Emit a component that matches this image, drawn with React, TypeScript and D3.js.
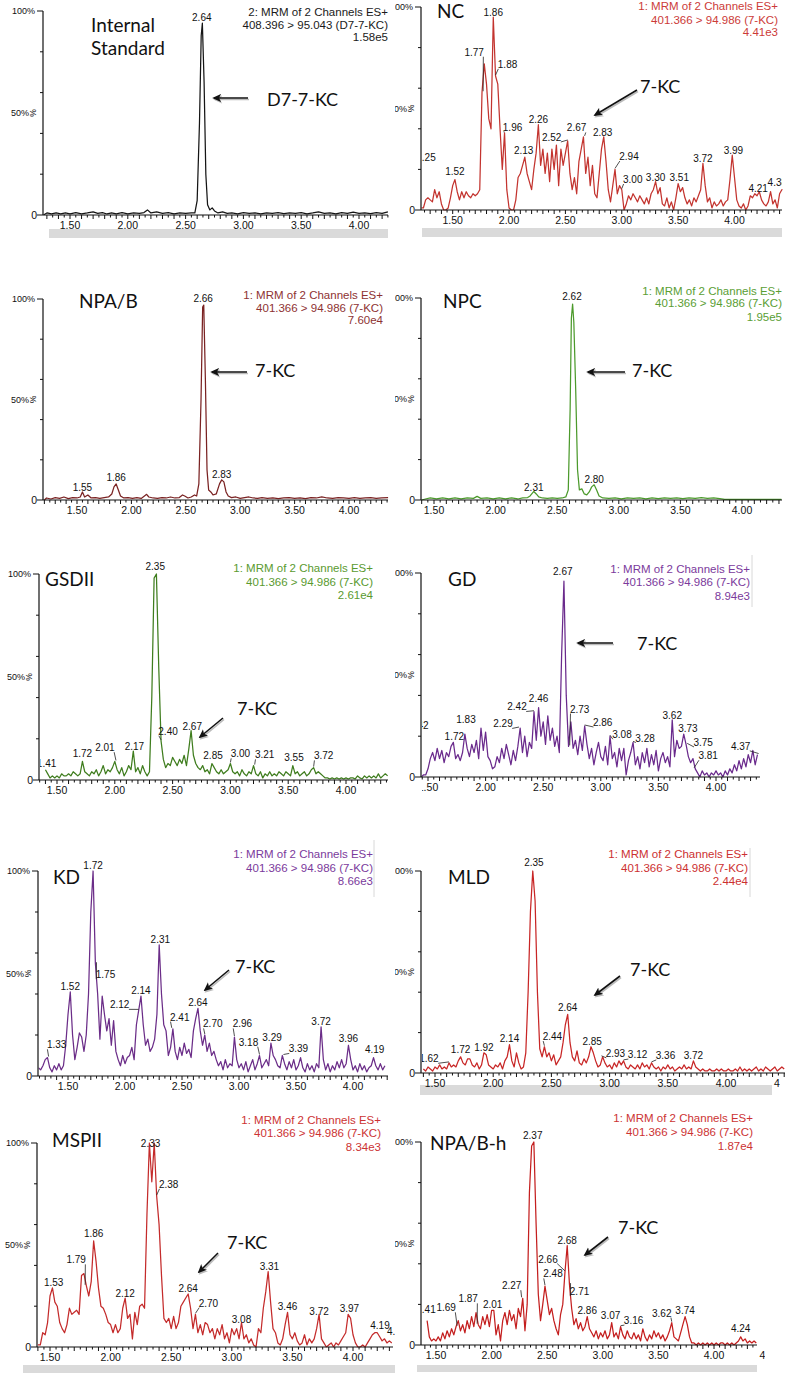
import React from 'react';
import * as d3 from 'd3';

// ---------- DATA ----------
const STEP = 0.02;
const tickLabels = ['1.50', '2.00', '2.50', '3.00', '3.50', '4.00', '4.50'];
const tickValues = [1.5, 2.0, 2.5, 3.0, 3.5, 4.0, 4.5];

const isHeader = ['2: MRM of 2 Channels ES+', '408.396 > 95.043 (D7-7-KC)', '1.58e5'];
const ncHeader = ['1: MRM of 2 Channels ES+', '401.366 > 94.986 (7-KC)', '4.41e3'];
const npabHeader = ['1: MRM of 2 Channels ES+', '401.366 > 94.986 (7-KC)', '7.60e4'];
const npcHeader = ['1: MRM of 2 Channels ES+', '401.366 > 94.986 (7-KC)', '1.95e5'];
const gsdHeader = ['1: MRM of 2 Channels ES+', '401.366 > 94.986 (7-KC)', '2.61e4'];
const gdHeader = ['1: MRM of 2 Channels ES+', '401.366 > 94.986 (7-KC)', '8.94e3'];
const kdHeader = ['1: MRM of 2 Channels ES+', '401.366 > 94.986 (7-KC)', '8.66e3'];
const mldHeader = ['1: MRM of 2 Channels ES+', '401.366 > 94.986 (7-KC)', '2.44e4'];
const mspHeader = ['1: MRM of 2 Channels ES+', '401.366 > 94.986 (7-KC)', '8.34e3'];
const npabhHeader = ['1: MRM of 2 Channels ES+', '401.366 > 94.986 (7-KC)', '1.87e4'];

// sparse [time, %] traces
const isPairs: number[][] = [
  [1.27,0],[1.30,1],[1.34,0.5],[1.38,1],[1.42,0.5],[1.46,1],[1.50,0.5],[1.55,1.2],[1.60,0.6],[1.65,1],
  [1.70,1.5],[1.74,0.8],[1.78,1.2],[1.82,0.5],[1.86,1],[1.90,0.6],[1.95,1.2],[2.00,0.5],[2.05,1],[2.10,0.8],
  [2.14,1.2],[2.17,2.5],[2.20,1],[2.25,1.5],[2.30,0.8],[2.35,1.2],[2.40,0.6],[2.45,1],[2.50,0.8],[2.55,1],
  [2.58,1],[2.60,7],[2.62,45],[2.635,88],[2.645,94],[2.66,65],[2.675,20],[2.69,5],[2.71,2.5],[2.73,3.5],
  [2.75,2],[2.78,1],[2.82,1.5],[2.86,0.8],[2.90,1],[2.95,0.6],[3.00,1.2],[3.05,0.8],[3.10,1],[3.15,0.6],
  [3.20,1],[3.25,0.8],[3.30,1.2],[3.35,0.7],[3.40,1],[3.45,0.8],[3.50,1.2],[3.55,0.6],[3.60,1],[3.65,1.5],
  [3.70,0.8],[3.75,1],[3.80,0.6],[3.85,1.2],[3.90,0.8],[3.95,1.4],[4.00,0.8],[4.05,1],[4.10,0.7],[4.15,1.2],
  [4.20,0.8],[4.25,1.5],
];

const npabPairs: number[][] = [
  [1.20,0],[1.22,1],[1.26,0.5],[1.30,1.2],[1.34,0.8],[1.38,1.5],[1.42,0.7],[1.46,1.2],[1.50,1],[1.53,1.5],
  [1.55,4],[1.57,1.5],[1.60,2.5],[1.63,1],[1.67,1.2],[1.71,0.8],[1.75,1.2],[1.79,1.5],[1.82,3],[1.84,6.5],
  [1.86,8],[1.88,5],[1.90,2],[1.93,1],[1.97,1.2],[2.01,0.8],[2.05,1.2],[2.09,0.8],[2.12,2],[2.14,2.8],
  [2.16,1.5],[2.20,1],[2.24,0.8],[2.28,1.2],[2.32,1],[2.36,1.5],[2.40,1],[2.44,1.2],[2.47,2.5],[2.49,2],
  [2.52,1],[2.55,1.5],[2.58,2.5],[2.60,2],[2.62,8],[2.64,50],[2.655,96],[2.665,97],[2.68,60],[2.695,15],
  [2.71,5],[2.73,4],[2.75,2.5],[2.78,3],[2.81,8],[2.83,10],[2.85,9],[2.87,4],[2.89,2],[2.92,1.2],
  [2.96,1.5],[3.00,0.8],[3.04,1.2],[3.08,1.5],[3.12,1],[3.16,0.8],[3.20,1.2],[3.25,0.8],[3.30,1],[3.35,0.7],
  [3.40,1],[3.45,1.2],[3.50,0.8],[3.55,1],[3.60,0.7],[3.65,1.2],[3.70,1],[3.75,1.5],[3.80,1],[3.85,0.8],
  [3.90,1.2],[3.95,1],[4.00,0.8],[4.05,1.2],[4.10,0.8],[4.15,1],[4.20,1.2],[4.25,0.8],[4.30,1],[4.36,1.2],
];

const npcPairs: number[][] = [
  [1.40,0],[1.43,0.5],[1.47,1],[1.52,0.5],[1.57,1],[1.62,0.6],[1.67,1],[1.72,0.5],[1.77,1],[1.82,0.8],
  [1.85,1.8],[1.88,0.8],[1.93,1],[1.98,0.5],[2.03,1],[2.08,0.6],[2.13,1],[2.18,0.5],[2.22,1],[2.26,1.2],
  [2.28,2],[2.30,3.5],[2.31,4.2],[2.33,3],[2.35,1.5],[2.38,1],[2.42,0.8],[2.46,1],[2.50,0.8],[2.54,1],
  [2.57,1.5],[2.59,5],[2.605,45],[2.615,90],[2.625,97],[2.635,88],[2.65,55],[2.665,15],[2.68,5],[2.70,5.5],
  [2.72,3],[2.74,2.5],[2.76,4],[2.78,6.5],[2.80,7.5],[2.82,5],[2.84,2],[2.87,1],[2.92,0.8],[2.97,1],
  [3.02,0.6],[3.07,1],[3.12,0.8],[3.17,1],[3.22,0.6],[3.27,1],[3.32,0.7],[3.37,1],[3.42,0.8],[3.47,1],
  [3.52,0.7],[3.57,1],[3.62,0.8],[3.67,1.2],[3.72,0.8],[3.77,1],[3.82,0.7],[3.86,0.3],[3.95,0.3],[4.05,0.3],
  [4.15,0.3],[4.25,0.3],[4.32,0.3],
];

// dense traces, one value every STEP minutes from the start time
const ncStart = 1.22;
const ncValues = [
  1,1,5,6,5,4,10,6,9,3,
  0,0,1,6,12,15,9,5,9,6,
  9,7,6,8,7,8,10,58,72,62,
  45,40,95,66,62,40,20,38,10,1,
  0,0,5,16,18,22,26,18,14,10,
  20,28,42,22,30,18,28,14,30,20,
  32,12,30,22,28,34,18,10,16,8,
  24,30,36,18,26,12,22,8,6,18,
  30,36,24,10,4,12,20,8,12,10,
  0,3,7,5,8,6,4,7,5,3,
  6,3,8,10,14,8,11,3,2,6,
  1,4,0,6,13,9,11,6,3,5,
  2,6,4,7,10,23,12,4,6,1,
  4,2,3,5,2,4,5,15,27,16,
  5,2,1,3,0,2,7,6,8,7,
  9,5,3,2,4,9,3,5,1,8,
  10,10,
];

const gsdStart = 1.40;
const gsdValues = [
  5,3,1,2,1,2,1,3,2,2,
  3,2,4,3,2,3,9,4,3,2,
  4,3,5,2,4,7,3,5,4,6,
  9,5,3,6,2,4,7,5,14,4,
  6,3,7,4,2,4,40,98,100,55,
  19,10,6,8,7,11,9,7,10,8,
  12,7,15,24,12,8,6,5,7,4,
  5,3,8,6,4,3,5,3,4,5,
  8,4,3,4,2,5,3,2,4,3,
  7,3,2,4,1,3,2,4,2,3,
  2,4,3,2,4,3,2,7,3,4,
  2,3,4,2,3,5,6,3,4,3,
  2,1,1,0.5,1,0.5,1,0.5,1,0.5,
  1,0.5,1,1,0.5,2,1,0.5,2,1,
  2,1,2,1,3,1,2,3,2,
];

const gdStart = 1.44;
const gdValues = [
  0,1,1,4,9,12,8,14,9,13,
  7,12,10,15,17,9,11,8,12,21,
  14,10,16,12,18,9,24,13,22,10,
  8,4,5,10,7,14,9,16,11,6,
  13,8,15,24,12,20,10,17,14,32,
  18,34,20,27,16,30,18,24,15,20,
  12,60,96,40,15,27,14,18,11,20,
  13,25,16,9,14,6,12,17,10,8,
  15,6,20,9,12,5,14,8,14,1,
  8,12,17,6,10,4,12,7,14,5,
  11,6,13,3,9,12,7,10,5,28,
  10,18,14,15,21,16,10,7,9,4,
  2,0,3,1,2,0,2,1,3,1,
  2,0,3,1,4,2,6,3,8,4,
  9,5,11,7,13,6,11,
];

const kdStart = 1.24;
const kdValues = [
  4,3,5,8,9,4,2,5,3,6,
  3,5,15,30,41,20,8,14,21,19,
  12,20,40,80,100,55,40,18,39,30,
  22,28,15,27,12,8,5,10,6,9,
  10,14,8,25,32,39,25,15,18,12,
  14,18,30,64,40,25,22,10,14,23,
  12,8,14,10,16,11,13,9,22,28,
  33,22,15,20,12,16,10,12,8,5,
  7,3,8,4,6,5,19,8,4,6,
  3,7,2,5,8,3,6,10,4,6,
  8,5,16,10,8,5,4,10,6,3,
  7,4,8,3,5,9,4,2,6,3,
  5,2,6,4,24,8,3,6,2,5,
  3,7,4,8,4,6,15,8,3,5,
  2,6,3,5,2,4,5,9,5,3,
  6,3,5,
];

const mldStart = 1.40;
const mldValues = [
  2,1,3,2,1,3,2,4,2,3,
  2,5,3,4,3,6,8,5,4,7,
  7,4,3,5,2,4,10,9,4,3,
  2,4,3,5,2,6,8,14,6,3,
  10,5,2,3,10,40,80,100,85,40,
  12,8,13,8,10,6,9,4,6,8,
  15,24,29,15,8,6,11,5,4,7,
  5,8,13,10,6,3,4,8,5,3,
  4,2,5,3,6,4,6,3,2,4,
  3,2,4,2,5,3,4,2,5,3,
  2,3,1,3,2,4,2,3,1,2,
  3,2,4,2,3,2,6,3,2,1,
  2,1,1,2,1,1,2,1,2,1,
  1,2,1,1,2,1,3,1,2,1,
  2,1,2,3,1,2,1,3,2,1,
  2,3,1,2,3,2,
];

const mspStart = 1.40;
const mspValues = [
  1,1,7,6,12,25,29,22,20,12,
  9,7,11,19,16,17,18,16,35,36,
  30,25,32,52,42,29,20,19,16,12,
  11,7,11,7,9,19,24,14,16,4,
  17,11,20,21,19,65,100,81,100,74,
  60,35,14,12,14,9,15,9,12,20,
  22,24,26,19,9,16,7,11,6,12,
  11,7,9,4,9,6,11,4,7,2,
  9,6,9,4,12,4,6,2,4,1,
  0,9,7,19,27,37,22,9,7,2,
  1,4,11,17,6,4,7,3,1,2,
  6,1,4,2,4,9,16,4,2,0,
  1,2,0,2,1,3,5,7,16,14,
  6,2,0,0,1,0,2,4,6,7,
  7,5,3,4,2,3,2,
];

const npabhStart = 1.42;
const npabhValues = [
  12,4,2,3,2,4,2,6,3,7,
  4,8,5,9,12,7,10,6,12,8,
  14,9,16,10,8,14,10,15,9,17,
  17,5,10,2,12,16,10,17,12,15,
  8,18,14,23,7,20,75,98,100,60,
  25,12,20,29,22,15,18,12,8,5,
  15,20,36,49,30,18,10,13,8,11,
  7,9,14,8,6,4,7,3,6,4,
  7,3,5,11,4,6,3,9,5,3,
  7,4,3,6,3,5,2,8,4,2,
  5,3,7,4,6,3,5,2,4,7,
  11,4,3,2,6,10,14,10,4,1,
  1,0,1,0,1,0,1,0,1,0,
  1,0,1,1,0,1,0,1,0,1,
  2,4,2,3,1,2,1,2,1,
];

// peak labels: [text, retention time, label level %, horizontal offset, leader line]
type Lab = [string, number, number, number, number];
const isLabels: Lab[] = [['2.64', 2.64, 95, 0, 0]];
const ncLabels: Lab[] = [
  ['1.25',1.25,24,1.5,0],['1.52',1.52,17,0,0],['1.77',1.77,76,-9,1],['1.86',1.86,95.6,0,0],
  ['1.88',1.88,70,12,1],['1.96',1.96,39,8,1],['2.13',2.13,27.5,0,0],['2.26',2.26,43,0,0],
  ['2.52',2.52,34,-16,1],['2.67',2.67,38.7,-8,1],['2.83',2.83,36.5,0,0],['2.94',2.94,24.6,14,1],
  ['3.00',3.00,13.3,11,1],['3.30',3.30,14.4,0,0],['3.51',3.51,14.4,0,0],['3.72',3.72,23.4,0,0],
  ['3.99',3.99,27.5,0,0],['4.21',4.21,8.7,0,0],['4.38',4.38,12,0,0],
];
const npabLabels: Lab[] = [['2.66',2.66,98.5,0,0],['1.55',1.55,4.7,0,0],['1.86',1.86,9.3,0,0],['2.83',2.83,11,0,0]];
const npcLabels: Lab[] = [['2.62',2.62,99,0,0],['2.31',2.31,4.6,0,0],['2.80',2.80,8.3,0,0]];
const gsdLabels: Lab[] = [
  ['2.35',2.35,101.8,0,0],['1.41',1.41,6.5,0,0],['1.72',1.72,11,0,0],['2.01',2.01,14,-11,1],
  ['2.17',2.17,14.7,0,0],['2.40',2.40,22,7,1],['2.67',2.67,24.3,0,0],['2.85',2.85,10.2,0,0],
  ['3.00',3.00,11,10,1],['3.21',3.21,10.5,10,1],['3.55',3.55,9,0,0],['3.72',3.72,10,10,1],
];
const gdLabels: Lab[] = [
  ['2.67',2.67,98.9,0,0],['1.42',1.42,23.4,0,0],['1.72',1.72,18,1,0],['1.83',1.83,26.4,0,0],
  ['2.29',2.29,24.3,-16,1],['2.42',2.42,32.6,-17,1],['2.46',2.46,36.6,0,0],['2.73',2.73,31.6,10,1],
  ['2.86',2.86,25,18,1],['3.08',3.08,19,12,1],['3.28',3.28,17.4,12,1],['3.62',3.62,28.4,0,0],
  ['3.73',3.73,22.3,3,0],['3.75',3.75,15.2,16,1],['3.81',3.81,8.7,14,1],['4.37',4.37,13.3,-18,1],
];
const kdLabels: Lab[] = [
  ['1.72',1.72,100.8,0,0],['1.33',1.33,13.5,8,1],['1.52',1.52,42,0,0],['1.75',1.75,47.7,9,1],
  ['2.12',2.12,33,-19,1],['2.14',2.14,40,0,0],['2.31',2.31,65,0,0],['2.41',2.41,27,8,1],
  ['2.64',2.64,34,0,0],['2.70',2.70,23.7,8,1],['2.96',2.96,23.7,8,1],['3.18',3.18,14.8,-11,1],
  ['3.29',3.29,17.2,0,0],['3.39',3.39,11.5,15,1],['3.72',3.72,24.8,0,0],['3.96',3.96,16.7,0,0],
  ['4.19',4.19,11,0,0],
];
const mldLabels: Lab[] = [
  ['2.35',2.35,102.5,0,0],['1.62',1.62,5.3,-20,1],['1.72',1.72,9.7,0,0],['1.92',1.92,11,0,0],
  ['2.14',2.14,15.3,0,0],['2.44',2.44,16.3,8,1],['2.64',2.64,30.5,0,0],['2.85',2.85,14,0,0],
  ['2.93',2.93,8,14,1],['3.12',3.12,7.4,14,1],['3.36',3.36,7,14,1],['3.72',3.72,7,0,0],
];
const mspLabels: Lab[] = [
  ['2.33',2.33,98,0,0],['1.53',1.53,29.7,0,0],['1.79',1.79,41,-9,1],['1.86',1.86,53.8,0,0],
  ['2.12',2.12,24.3,0,0],['2.38',2.38,78,12,1],['2.64',2.64,27.2,0,0],['2.70',2.70,19.8,13,1],
  ['3.08',3.08,12,0,0],['3.31',3.31,37.9,0,0],['3.46',3.46,18.2,0,0],['3.72',3.72,15.6,0,0],
  ['3.97',3.97,17.4,0,0],['4.19',4.19,8.7,4,0],['4.30',4.36,5.7,0,0],
];
const npabhLabels: Lab[] = [
  ['2.37',2.37,101.6,0,0],['1.41',1.41,16,0,0],['1.69',1.69,16.6,-11,1],['1.87',1.87,21,-9,1],
  ['2.01',2.01,18,0,0],['2.27',2.27,27.5,-10,1],['2.48',2.48,33.3,8,1],['2.66',2.66,40.6,-17,1],
  ['2.68',2.68,49.7,0,0],['2.71',2.71,24.6,9,1],['2.86',2.86,15.2,0,0],['3.07',3.07,13,0,0],
  ['3.16',3.16,10.3,13,1],['3.62',3.62,14,-10,1],['3.74',3.74,15.2,0,0],['4.24',4.24,6.2,0,0],
];

// ---------- LAYOUT ----------
const dense = (start: number, vals: number[]) => vals.map((v, i) => [start + i * STEP, v]);

type Layout = {
  x150: number; x400: number; axisX: number; axisEnd: number; y0: number; y100: number;
  headerX: number; headerY: number[]; titleX: number; titleY: number[]; kcX: number; kcY: number;
  arrow: number[]; bar?: number[]; vline?: number[]; clipL: number; clipR: number;
};
type PanelDef = {
  key: string; series: number[][]; color: string; textColor: string; header: string[];
  title: string[]; kc: string; labels: Lab[]; L: Layout;
};

const panels: PanelDef[] = [
  { key: 'is', series: isPairs, color: '#151515', textColor: '#1a1a1a', header: isHeader,
    title: ['Internal', 'Standard'], kc: 'D7-7-KC', labels: isLabels,
    L: { x150: 70, x400: 359, axisX: 43, axisEnd: 388, y0: 215, y100: 11, headerX: 388, headerY: [16, 29, 41],
      titleX: 91, titleY: [32, 55], kcX: 267, kcY: 106, arrow: [248, 98, 214, 98], bar: [49, 229, 339, 9], clipL: 44, clipR: 395 } },
  { key: 'nc', series: dense(ncStart, ncValues), color: '#c3342f', textColor: '#cc3b38', header: ncHeader,
    title: ['NC'], kc: '7-KC', labels: ncLabels,
    L: { x150: 452.7, x400: 734.5, axisX: 421, axisEnd: 782, y0: 210, y100: 7, headerX: 778, headerY: [10, 24, 36],
      titleX: 437, titleY: [18], kcX: 640, kcY: 93, arrow: [637, 90, 595, 115], bar: [422, 228, 360, 9], clipL: 422, clipR: 782 } },
  { key: 'npab', series: npabPairs, color: '#7a2222', textColor: '#8e3232', header: npabHeader,
    title: ['NPA/B'], kc: '7-KC', labels: npabLabels,
    L: { x150: 77, x400: 349, axisX: 43, axisEnd: 388, y0: 500, y100: 299, headerX: 383, headerY: [299, 312, 324],
      titleX: 79, titleY: [308], kcX: 255, kcY: 377, arrow: [247, 372, 212, 372], clipL: 44, clipR: 395 } },
  { key: 'npc', series: npcPairs, color: '#4c9a2c', textColor: '#5a9e34', header: npcHeader,
    title: ['NPC'], kc: '7-KC', labels: npcLabels,
    L: { x150: 434, x400: 742, axisX: 421, axisEnd: 782, y0: 500, y100: 298, headerX: 782, headerY: [295, 307, 321],
      titleX: 443, titleY: [308], kcX: 632, kcY: 377, arrow: [625, 372, 588, 372], clipL: 422, clipR: 790 } },
  { key: 'gsd', series: dense(gsdStart, gsdValues), color: '#3f7d1e', textColor: '#5a9a2f', header: gsdHeader,
    title: ['GSDII'], kc: '7-KC', labels: gsdLabels,
    L: { x150: 57, x400: 346, axisX: 39, axisEnd: 388, y0: 780, y100: 574, headerX: 373, headerY: [572, 586, 599],
      titleX: 45, titleY: [586], kcX: 237, kcY: 715, arrow: [223, 718, 200, 737], clipL: 40, clipR: 395 } },
  { key: 'gd', series: dense(gdStart, gdValues), color: '#6a2a8c', textColor: '#7b3a9c', header: gdHeader,
    title: ['GD'], kc: '7-KC', labels: gdLabels,
    L: { x150: 428, x400: 716, axisX: 421, axisEnd: 760, y0: 777, y100: 573, headerX: 750, headerY: [573, 586, 600],
      titleX: 448, titleY: [586], kcX: 637, kcY: 650, arrow: [613, 643, 578, 643], vline: [752, 555, 607], clipL: 422, clipR: 765 } },
  { key: 'kd', series: dense(kdStart, kdValues), color: '#6b2d88', textColor: '#7b3a9c', header: kdHeader,
    title: ['KD'], kc: '7-KC', labels: kdLabels,
    L: { x150: 68, x400: 353, axisX: 38, axisEnd: 388, y0: 1076, y100: 871, headerX: 373, headerY: [858, 872, 885],
      titleX: 53, titleY: [884], kcX: 235, kcY: 973, arrow: [229, 970, 205, 990], vline: [374, 840, 897], clipL: 39, clipR: 395 } },
  { key: 'mld', series: dense(mldStart, mldValues), color: '#c82626', textColor: '#cc3030', header: mldHeader,
    title: ['MLD'], kc: '7-KC', labels: mldLabels,
    L: { x150: 435, x400: 726, axisX: 421, axisEnd: 785, y0: 1073, y100: 871, headerX: 748, headerY: [858, 872, 885],
      titleX: 448, titleY: [884], kcX: 630, kcY: 976, arrow: [620, 976, 595, 995], bar: [420, 1085, 352, 10], vline: [750, 848, 897], clipL: 422, clipR: 780 } },
  { key: 'msp', series: dense(mspStart, mspValues), color: '#c42b2b', textColor: '#cc3333', header: mspHeader,
    title: ['MSPII'], kc: '7-KC', labels: mspLabels,
    L: { x150: 50, x400: 353, axisX: 37, axisEnd: 393, y0: 1347, y100: 1143, headerX: 381, headerY: [1124, 1137, 1151],
      titleX: 52, titleY: [1147], kcX: 227, kcY: 1249, arrow: [218, 1253, 199, 1272], bar: [23, 1365, 372, 8], clipL: 38, clipR: 395 } },
  { key: 'npabh', series: dense(npabhStart, npabhValues), color: '#c41f1f', textColor: '#cc3333', header: npabhHeader,
    title: ['NPA/B-h'], kc: '7-KC', labels: npabhLabels,
    L: { x150: 436, x400: 714, axisX: 421, axisEnd: 757, y0: 1345, y100: 1142, headerX: 753, headerY: [1122, 1136, 1150],
      titleX: 430, titleY: [1150], kcX: 618, kcY: 1234, arrow: [608, 1237, 585, 1255], bar: [417, 1365, 340, 7], clipL: 422, clipR: 765 } },
];

const SANS = "'Liberation Sans', Arial, sans-serif";
const TITLE = "Lato, 'Open Sans', sans-serif";

function Panel({ p }: { p: PanelDef }) {
  const L = p.L;
  const x = d3.scaleLinear().domain([1.5, 4]).range([L.x150, L.x400]);
  const y = d3.scaleLinear().domain([0, 100]).range([L.y0, L.y100]);
  const line = d3.line<number[]>().x(d => x(d[0])).y(d => y(d[1]));
  const tMin = x.invert(L.axisX);
  const tMax = x.invert(L.axisEnd);
  const minor = d3.range(Math.ceil(tMin / 0.05 - 1e-6), Math.floor(tMax / 0.05 + 1e-6) + 1).map(k => k * 0.05);
  const valueAt = (t: number) => {
    let best = p.series[0];
    for (const d of p.series) if (Math.abs(d[0] - t) < Math.abs(best[0] - t)) best = d;
    return best[1];
  };
  const yTicks = [0, 20, 40, 60, 80, 100];
  const ymid = y(50);
  const trId = `tr-${p.key}`;
  const txId = `tx-${p.key}`;
  const visibleTicks = tickValues.map((t, i) => ({ t, s: tickLabels[i] })).filter(d => x(d.t) - 8 < L.clipR);
  return (
    <g>
      <defs>
        <clipPath id={trId}>
          <rect x={L.axisX + 0.5} y={L.y100 - 30} width={L.axisEnd - L.axisX} height={L.y0 - L.y100 + 30.5} />
        </clipPath>
        <clipPath id={txId}>
          <rect x={L.clipL} y={L.y100 - 40} width={L.clipR - L.clipL} height={L.y0 - L.y100 + 70} />
        </clipPath>
        <clipPath id={`ya-${p.key}`}>
          <rect x={L.axisX < 100 ? 0 : 395} y={L.y100 - 20} width={60} height={L.y0 - L.y100 + 40} />
        </clipPath>
      </defs>
      {L.bar && <rect x={L.bar[0]} y={L.bar[1]} width={L.bar[2]} height={L.bar[3]} fill="#dadada" />}
      {L.vline && <line x1={L.vline[0]} x2={L.vline[0]} y1={L.vline[1]} y2={L.vline[2]} stroke="#d8d8d8" strokeWidth={1} />}
      {/* trace */}
      <path d={line(p.series) || ''} fill="none" stroke={p.color} strokeWidth={1.25} strokeLinejoin="round" clipPath={`url(#${trId})`} />
      {/* axes */}
      <line x1={L.axisX} x2={L.axisX} y1={L.y100} y2={L.y0} stroke="#111" strokeWidth={1.2} />
      <line x1={L.axisX} x2={L.axisEnd} y1={L.y0} y2={L.y0} stroke="#111" strokeWidth={1.2} />
      {yTicks.map(v => (
        <line key={`yt${v}`} x1={L.axisX - (v % 50 === 0 ? 6 : 3)} x2={L.axisX} y1={y(v)} y2={y(v)} stroke="#111" strokeWidth={1} />
      ))}
      {minor.map((t, i) => {
        const major = Math.abs(t * 10 - Math.round(t * 10)) < 1e-6;
        return <line key={`xt${i}`} x1={x(t)} x2={x(t)} y1={L.y0} y2={L.y0 + (major ? 4 : 2.5)} stroke="#111" strokeWidth={1} />;
      })}
      <g clipPath={`url(#${txId})`} fontFamily={SANS} fontSize={10.5} fill="#111" textAnchor="middle">
        {visibleTicks.map((d, i) => (
          <text key={`tl${i}`} x={x(d.t)} y={L.y0 + 14}>{d.s}</text>
        ))}
      </g>
      <g fontFamily={SANS} fill="#111">
        <g clipPath={`url(#ya-${p.key})`}>
          <text x={L.axisX - 8} y={L.y100 + 3} fontSize={9} textAnchor="end">100%</text>
          <text x={L.axisX - 14} y={ymid + 3} fontSize={9} textAnchor="end">50%</text>
        </g>
        <text transform={`translate(${L.axisX - 10},${ymid}) rotate(-90)`} fontSize={8.5} textAnchor="middle" dy={3}>%</text>
        <text x={L.axisX - 6} y={L.y0 + 4} fontSize={10.5} textAnchor="end">0</text>
      </g>
      {/* peak labels */}
      <g clipPath={`url(#${txId})`} fontFamily={SANS} fontSize={10} fill="#111" textAnchor="middle">
        {p.labels.map((lb, i) => {
          const [txt, t, pct, dx, leader] = lb;
          const lx = x(t) + dx;
          const ly = y(pct);
          const w = txt.length * 5.1;
          const sx = dx > 0 ? lx - w / 2 + 1 : lx + w / 2 - 1;
          return (
            <g key={`pl${i}`}>
              {leader ? (
                <line x1={sx} y1={ly + 1} x2={x(t)} y2={y(valueAt(t)) - 1} stroke="#222" strokeWidth={0.8} />
              ) : null}
              <text x={lx} y={ly}>{txt}</text>
            </g>
          );
        })}
      </g>
      {/* header */}
      <g fontFamily={SANS} fontSize={11.5} fill={p.textColor} textAnchor="end">
        {p.header.map((h, i) => (
          <text key={`h${i}`} x={L.headerX} y={L.headerY[i]}>{h}</text>
        ))}
      </g>
      {/* title */}
      <g fontFamily={TITLE} fontSize={19} fill="#111">
        {p.title.map((tt, i) => (
          <text key={`t${i}`} x={L.titleX} y={L.titleY[i]}>{tt}</text>
        ))}
      </g>
      {/* 7-KC annotation */}
      <line x1={L.arrow[0] + 1} y1={L.arrow[1] + 1.5} x2={L.arrow[2] + 1} y2={L.arrow[3] + 1.5} stroke="#bbb" strokeWidth={1.6} markerEnd="url(#ahs)" />
      <line x1={L.arrow[0]} y1={L.arrow[1]} x2={L.arrow[2]} y2={L.arrow[3]} stroke="#111" strokeWidth={1.6} markerEnd="url(#ah)" />
      <text x={L.kcX} y={L.kcY} fontFamily={TITLE} fontSize={18} fill="#111">{p.kc}</text>
    </g>
  );
}

export default function App() {
  return (
    <svg width={790} height={1375} viewBox="0 0 790 1375" xmlns="http://www.w3.org/2000/svg"
      style={{ position: 'absolute', left: 0, top: 0, background: '#fff' }}>
      <defs>
        <marker id="ah" viewBox="0 0 10 10" refX={8} refY={5} markerWidth={9} markerHeight={9} markerUnits="userSpaceOnUse" orient="auto">
          <path d="M0,0.5 L10,5 L0,9.5 L2.5,5 Z" fill="#111" />
        </marker>
        <marker id="ahs" viewBox="0 0 10 10" refX={8} refY={5} markerWidth={9} markerHeight={9} markerUnits="userSpaceOnUse" orient="auto">
          <path d="M0,0.5 L10,5 L0,9.5 L2.5,5 Z" fill="#bbb" />
        </marker>
      </defs>
      <rect x={0} y={0} width={790} height={1375} fill="#fff" />
      {panels.map(p => <Panel key={p.key} p={p} />)}
    </svg>
  );
}
